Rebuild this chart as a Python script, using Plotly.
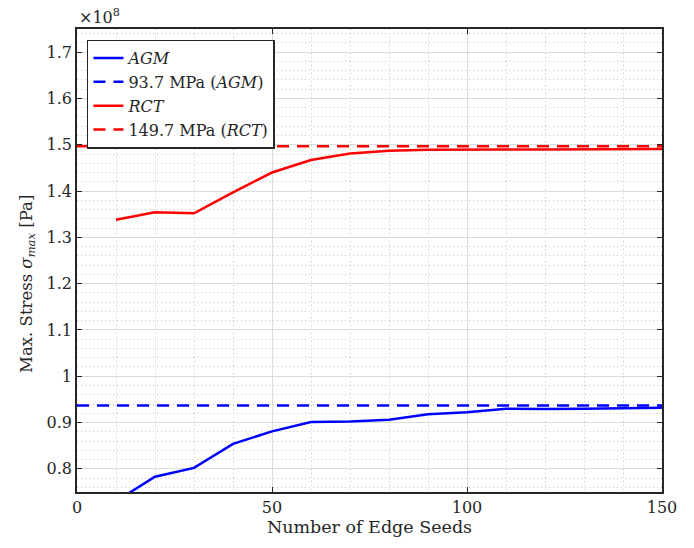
import plotly.graph_objects as go

# Data (stress in units of 1e8 Pa)
seeds = [10, 20, 30, 40, 50, 60, 70, 80, 90, 100, 110, 120, 130, 140, 150]
agm = [0.730, 0.783, 0.802, 0.854, 0.881, 0.901, 0.902, 0.906, 0.918, 0.922, 0.930, 0.929, 0.930, 0.931, 0.932]
rct = [1.338, 1.354, 1.352, 1.397, 1.440, 1.467, 1.481, 1.487, 1.489, 1.490, 1.490, 1.490, 1.490, 1.491, 1.491]
ref_x = [0, 150]
agm_ref = 0.937
rct_ref = 1.497
ytick_vals = [0.8, 0.9, 1.0, 1.1, 1.2, 1.3, 1.4, 1.5, 1.6, 1.7]
ytick_text = ["0.8", "0.9", "1", "1.1", "1.2", "1.3", "1.4", "1.5", "1.6", "1.7"]
xtick_vals = [0, 50, 100, 150]

FONT = "DejaVu Serif"
TXT = "#262626"
BLUE = "#0000ff"
RED = "#ff0000"

fig = go.Figure()
fig.add_trace(go.Scatter(x=seeds, y=agm, mode="lines", name="<i>AGM</i>",
                         line=dict(color=BLUE, width=2.5)))
fig.add_trace(go.Scatter(x=ref_x, y=[agm_ref] * 2, mode="lines", name="93.7 MPa (<i>AGM</i>)",
                         line=dict(color=BLUE, width=2.5, dash="12px,8px")))
fig.add_trace(go.Scatter(x=seeds, y=rct, mode="lines", name="<i>RCT</i>",
                         line=dict(color=RED, width=2.5)))
fig.add_trace(go.Scatter(x=ref_x, y=[rct_ref] * 2, mode="lines", name="149.7 MPa (<i>RCT</i>)",
                         line=dict(color=RED, width=2.5, dash="12px,8px")))

axis_common = dict(
    showline=True, linecolor=TXT, linewidth=1.5, mirror="ticks",
    ticks="inside", ticklen=5, tickwidth=1.2, tickcolor=TXT,
    showgrid=True, gridcolor="#dcdcdc", gridwidth=1,
    zeroline=False,
    tickfont=dict(family=FONT, size=16, color=TXT),
)

fig.update_xaxes(
    range=[0, 150], tickvals=xtick_vals,
    title=dict(text="Number of Edge Seeds", font=dict(family=FONT, size=17.5, color=TXT), standoff=4),
    minor=dict(dtick=10, showgrid=True, griddash="1px,3px", gridcolor="#c4c4c4", gridwidth=1, ticks=""),
    **axis_common,
)
fig.update_yaxes(
    range=[0.75, 1.75], tickvals=ytick_vals, ticktext=ytick_text,
    minor=dict(dtick=0.02, tick0=0.7, showgrid=True, griddash="1px,3px", gridcolor="#c4c4c4", gridwidth=1, ticks=""),
    **axis_common,
)

# y-axis title as annotation for precise centering
fig.add_annotation(text="Max. Stress <i>σ<sub>max</sub></i> [Pa]", xref="paper", yref="paper",
                   x=-0.085, y=0.45, xanchor="center", yanchor="middle", textangle=-90,
                   showarrow=False, font=dict(family=FONT, size=16.5, color=TXT))

fig.add_annotation(text="×10<sup>8</sup>", xref="paper", yref="paper", x=0, y=1.0,
                   xanchor="left", yanchor="bottom", showarrow=False, yshift=0,
                   font=dict(family=FONT, size=16, color=TXT))

fig.update_layout(
    width=694, height=548,
    margin=dict(l=77, r=32, t=29, b=56),
    paper_bgcolor="white", plot_bgcolor="white",
    showlegend=True,
    legend=dict(x=0.017, y=0.977, xanchor="left", yanchor="top",
                bgcolor="white", bordercolor=TXT, borderwidth=1.5,
                font=dict(family=FONT, size=16, color=TXT),
                tracegroupgap=0, itemwidth=30),
    font=dict(family=FONT),
)

fig.write_html("out.html")
